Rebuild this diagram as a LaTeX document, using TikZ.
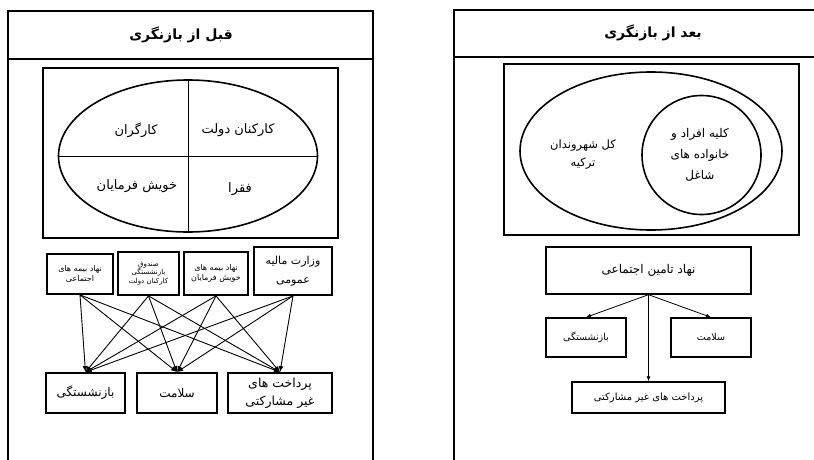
\documentclass[tikz,border=0pt]{standalone}
\usepackage{fontspec}
\usepackage{tikz}
\usetikzlibrary{shapes.geometric,arrows.meta,positioning}
\newfontfamily\arabicfont[Script=Arabic]{DejaVu Sans}
\TeXXeTstate=1
\newcommand{\fa}[1]{{\arabicfont\beginR #1\endR}}

\begin{document}
\begin{tikzpicture}[x=1pt,y=-1pt,
    panel/.style={line width=2pt},
    frame/.style={line width=1.6pt},
    box/.style={draw,line width=1.8pt,inner sep=1pt,align=center},
    link/.style={-{Latex[length=6pt,width=5pt]},line width=0.9pt},
    txt/.style={font=\fontsize{13}{16}\selectfont,align=center}]
    \useasboundingbox (0,0) rectangle (814,460);
    \clip (0,0) rectangle (814,460);

    % before the revision
    \draw[panel] (8,470) -- (8,11) -- (373,11) -- (373,470);
    \draw[panel] (8,59) -- (373,59);
    \node[txt,font=\fontsize{14}{16}\selectfont\bfseries] (titleA) at (181,35) {\fa{قبل از بازنگری}};
    \draw[frame] (43,68) rectangle (338,238);
    \node[draw,ellipse,line width=1.6pt,minimum width=259pt,minimum height=152pt,inner sep=0pt] (groups) at (188,156) {};
    \draw[line width=0.7pt] (groups.north) -- (groups.south);
    \draw[line width=0.7pt] (groups.west) -- (groups.east);
    \node[txt] (workers) at (136,130) {\fa{کارگران}};
    \node[txt] (staff) at (238,130) {\fa{کارکنان دولت}};
    \node[txt] (self) at (137,186) {\fa{خویش فرمایان}};
    \node[txt] (poor) at (240,189) {\fa{فقرا}};

    \node[box,font=\fontsize{8}{9.5}\selectfont,minimum width=66pt,minimum height=40pt] (src1) at (80,274) {\fa{نهاد بیمه های}\\\fa{اجتماعی}};
    \node[box,font=\fontsize{7}{8.5}\selectfont,minimum width=61pt,minimum height=43pt] (src2) at (148.5,273.5) {\fa{صندوق}\\\fa{بازنشستگی}\\\fa{کارکنان دولت}};
    \node[box,font=\fontsize{8}{9.5}\selectfont,minimum width=64pt,minimum height=43pt] (src3) at (216,273.5) {\fa{نهاد بیمه های}\\\fa{خویش فرمایان}};
    \node[box,font=\fontsize{11}{19}\selectfont,minimum width=78pt,minimum height=48pt] (src4) at (293,271) {\fa{وزارت مالیه}\\\fa{عمومی}};

    \node[box,txt,font=\fontsize{12}{18}\selectfont,minimum width=79pt,minimum height=40pt] (dst1) at (85.5,393) {\fa{بازنشستگی}};
    \node[box,txt,font=\fontsize{12}{18}\selectfont,minimum width=80pt,minimum height=40pt] (dst2) at (177,393) {\fa{سلامت}};
    \node[box,txt,font=\fontsize{12.5}{18}\selectfont,minimum width=104pt,minimum height=40pt,inner sep=0pt] (dst3) at (280,393) {\fa{پرداخت های}\\\fa{غیر مشارکتی}};

    \foreach \s in {1,...,4}
        \foreach \d in {1,2,3}
            \draw[link] (src\s.south) -- (dst\d.north);

    % after the revision
    \draw[panel] (454,470) -- (454,10) -- (820,10);
    \draw[panel] (454,57) -- (820,57);
    \node[txt,font=\fontsize{14}{16}\selectfont\bfseries] (titleB) at (653,33) {\fa{بعد از بازنگری}};
    \draw[frame] (504,64) rectangle (799,235);
    \node[draw,ellipse,line width=1.6pt,minimum width=262pt,minimum height=158pt,inner sep=0pt] (citizens) at (651,151) {};
    \node[draw,circle,line width=1.6pt,minimum size=119pt,inner sep=0pt] (employed) at (701.5,155) {};
    \node[txt,font=\fontsize{11.5}{18}\selectfont] (citizensT) at (583,155) {\fa{کل شهروندان}\\\fa{ترکیه}};
    \node[txt,font=\fontsize{12}{21}\selectfont] (employedT) at (700,155) {\fa{کلیه افراد و}\\\fa{خانواده های}\\\fa{شاغل}};

    \node[box,font=\fontsize{12}{14}\selectfont,line width=1.4pt,minimum width=205pt,minimum height=47pt] (tamin) at (648.5,270.5) {\fa{نهاد تامین اجتماعی}};
    \node[box,font=\fontsize{9.5}{11}\selectfont,line width=1.4pt,minimum width=80pt,minimum height=39pt] (bazn) at (586,337.5) {\fa{بازنشستگی}};
    \node[box,font=\fontsize{9.5}{11}\selectfont,line width=1.4pt,minimum width=80pt,minimum height=39pt] (salamat) at (711,337.5) {\fa{سلامت}};
    \node[box,font=\fontsize{10}{12}\selectfont,line width=1.4pt,minimum width=153pt,minimum height=31pt] (pardakht) at (648.5,397.5) {\fa{پرداخت های غیر مشارکتی}};
    \draw[-{Latex[length=5pt,width=4pt]},line width=0.8pt] (tamin.south) -- (bazn.north);
    \draw[-{Latex[length=5pt,width=4pt]},line width=0.8pt] (tamin.south) -- (salamat.north);
    \draw[-{Latex[length=5pt,width=4pt]},line width=0.8pt] (tamin.south) -- (pardakht.north);
\end{tikzpicture}
\end{document}
